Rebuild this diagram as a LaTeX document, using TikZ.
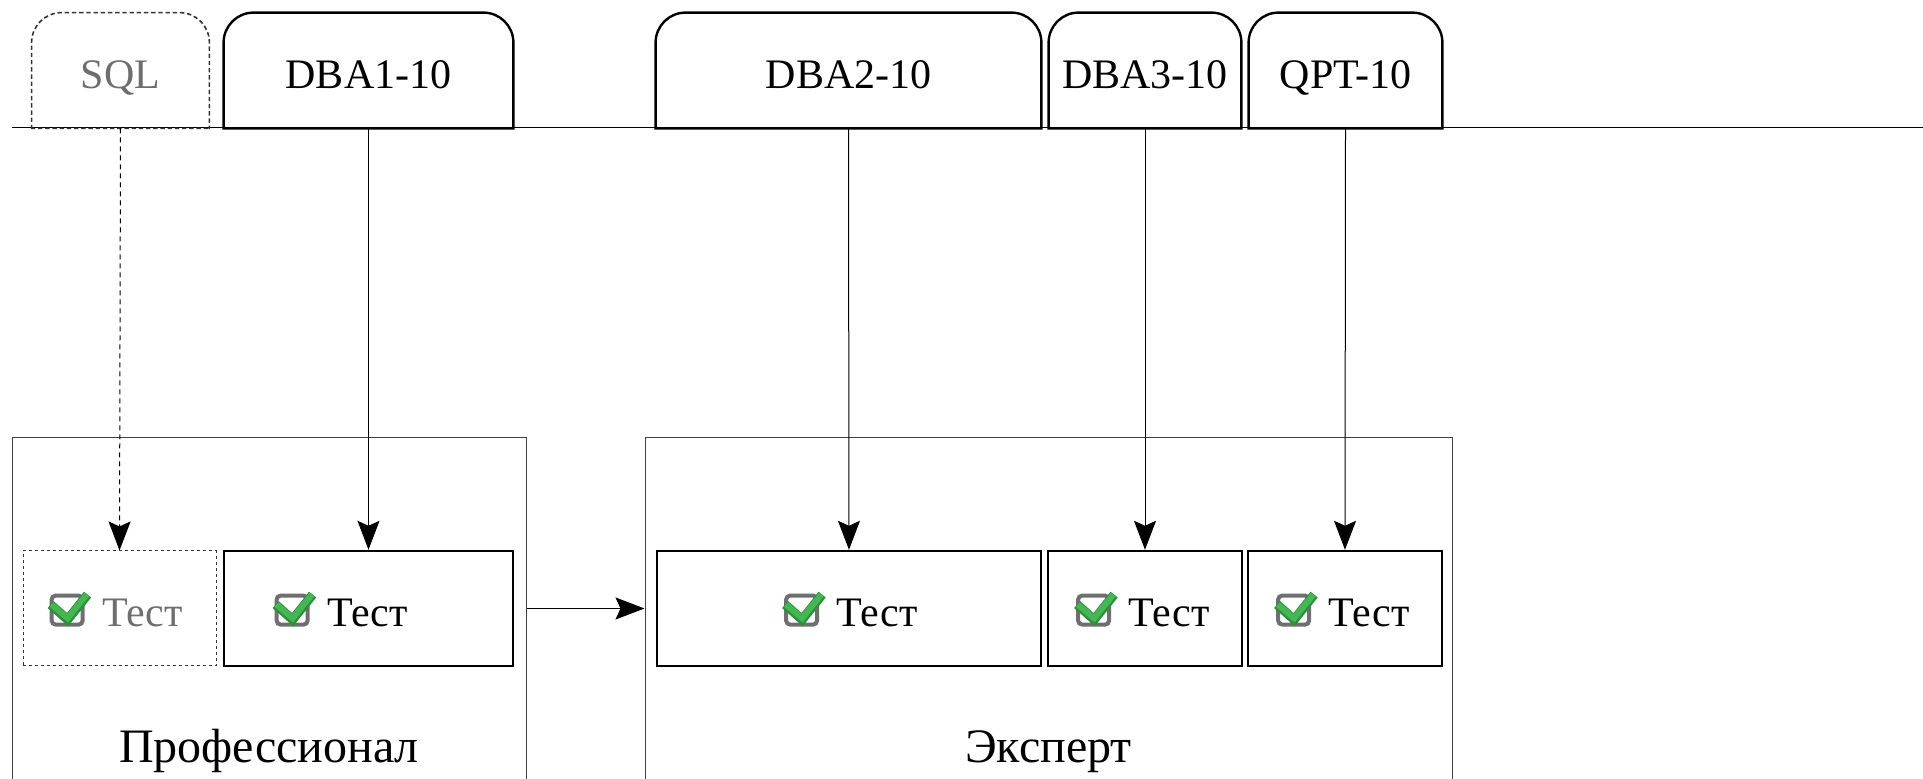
\documentclass[tikz,border=0pt]{standalone}
\usepackage{fontspec}
\setmainfont{Liberation Serif}
\usetikzlibrary{arrows.meta}
\definecolor{dimtext}{HTML}{6E6E6E}
\definecolor{boxgray}{HTML}{6F6F6F}
\definecolor{okgreen}{HTML}{45B653}
\definecolor{okdark}{HTML}{2E8F3A}
\newcommand{\okmark}{\tikz[baseline={(0,1)},x=0.5pt,y=0.5pt]{
		\draw[boxgray,line width=2pt,fill=white,rounded corners=2pt] (1,1) rectangle (32,30);
		\draw[okdark,line width=4.6pt] (0,21) -- (17,6) -- (37,31);
		\draw[okgreen,line width=3pt] (0.8,21) -- (17,7.4) -- (36.2,31);}}
\newcommand{\testtxt}[1]{\okmark\hspace{5pt}Тест\rule{#1}{0pt}}

\begin{document}
\begin{tikzpicture}[>={Stealth[length=14.5pt,width=11pt,inset=2.5pt]},x=0.5pt,y=-0.5pt,
		every node/.style={font=\fontsize{21pt}{25pt}\selectfont,inner sep=0pt},
		tabnode/.style={minimum height=57.5pt,text height=18.5pt,text depth=0pt},
		tabline/.style={line width=1.2pt,line cap=rect,rounded corners=15pt},
		testbox/.style={draw,line width=1.2pt,minimum height=57.5pt},
		stagebox/.style={draw=black!75,line width=0.5pt,minimum height=181.5pt,anchor=north},
		stagetxt/.style={anchor=base,font=\fontsize{24pt}{28pt}\selectfont},
		conn/.style={->,line width=0.5pt},
		faded/.style={text=dimtext}]
	\useasboundingbox (0,0) rectangle (1923,779);

	\node[stagebox,minimum width=257pt] (prof) at (269,437) {};
	\node[stagebox,minimum width=403.5pt] (expert) at (1048.5,437) {};
	\node[stagetxt] (proftxt) at (269,763) {Профессионал};
	\node[stagetxt] (experttxt) at (1048.5,763) {Эксперт};

	\coordinate (rulewest) at (12,128);
	\coordinate (ruleeast) at (1923,128);
	\draw[line width=0.5pt] (rulewest) -- (ruleeast);

	\node[tabnode,faded,minimum width=88.5pt] (sql) at (120.5,70.5) {SQL};
	\node[tabnode,minimum width=144.5pt] (dba1) at (368.5,70.5) {DBA1-10};
	\node[tabnode,minimum width=192.5pt] (dba2) at (848.5,70.5) {DBA2-10};
	\node[tabnode,minimum width=96pt] (dba3) at (1145,70.5) {DBA3-10};
	\node[tabnode,minimum width=96.5pt] (qpt) at (1345.5,70.5) {QPT-10};

	\draw[tabline,black!80,line width=0.8pt,dash pattern=on 1.4pt off 2.2pt] (sql.south west) -- (sql.south east) (sql.south west) -- (sql.north west) -- (sql.north east) -- (sql.south east);
	\foreach \t in {dba1,dba2,dba3,qpt}
		\draw[tabline] (\t.south west) -- (\t.south east) (\t.south west) -- (\t.north west) -- (\t.north east) -- (\t.south east);

	\node[testbox,faded,draw=black!80,line width=0.5pt,dash pattern=on 1.5pt off 1.5pt,minimum width=96.5pt] (tsql) at (119.5,608.5) {\testtxt{5pt}};
	\node[testbox,minimum width=144.5pt] (t1) at (368.5,608.5) {\testtxt{29pt}};
	\node[testbox,minimum width=192pt] (t2) at (849,608.5) {\testtxt{0pt}};
	\node[testbox,minimum width=97pt] (t3) at (1145,608.5) {\testtxt{4pt}};
	\node[testbox,minimum width=97pt] (tq) at (1345,608.5) {\testtxt{4pt}};

	\draw[conn,dash pattern=on 2.5pt off 2pt] (sql.south) -- (tsql.north);
	\draw[conn] (dba1.south) -- (t1.north);
	\draw[conn] (dba2.south) -- (t2.north);
	\draw[conn] (dba3.south) -- (t3.north);
	\draw[conn] (qpt.south) -- (tq.north);
	\draw[conn] (t1.east -| prof.east) -- (t2.west -| expert.west);
\end{tikzpicture}
\end{document}
